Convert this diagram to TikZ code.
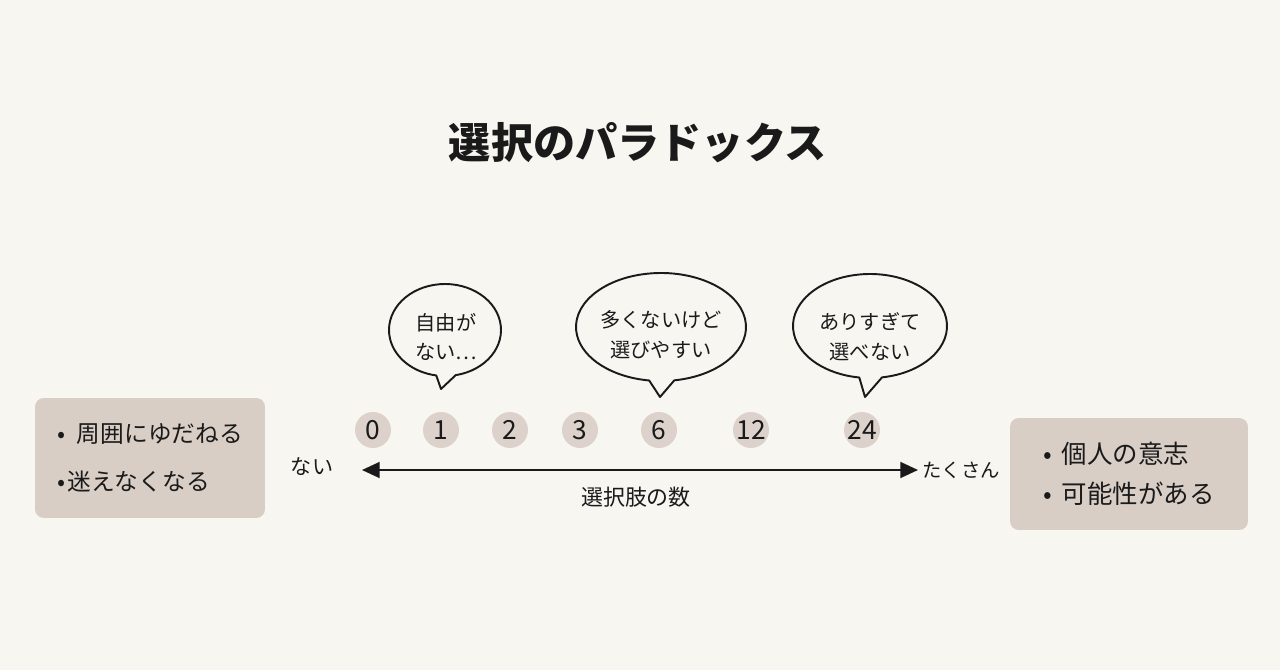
\documentclass[tikz,border=0pt]{standalone}
\usepackage{fontspec}
\setmainfont{Noto Sans CJK JP}
\usetikzlibrary{arrows.meta,calc}
\definecolor{bg}{HTML}{F7F6F1}
\definecolor{boxc}{HTML}{D9CEC6}
\definecolor{dotc}{HTML}{DCD2CB}
\definecolor{ink}{HTML}{1A1A1A}
\begin{document}
\begin{tikzpicture}[x=0.02cm,y=0.02cm,
  sidebox/.style={fill=boxc, rounded corners=5pt, align=left, inner sep=0pt,
    text=ink, font=\fontsize{13.5}{27}\selectfont},
  numdot/.style={circle, fill=dotc, minimum size=0.72cm, inner sep=0pt, text=ink,
    font=\fontsize{15}{15}\selectfont},
  bubtext/.style={align=center, text=ink, font=\fontsize{11.5}{17}\selectfont},
  bubline/.style={draw=ink, line width=1.1pt, line join=round},
  axlabel/.style={text=ink, font=\fontsize{12}{12}\selectfont}]
\useasboundingbox[fill=bg] (0,0) rectangle (1280,670);

% title
\node[text=ink, font=\fontsize{24}{24}\selectfont\bfseries] (title) at (638,527) {選択のパラドックス};

% side boxes
\node[sidebox, minimum width=4.6cm, minimum height=2.4cm] (left) at (150,212)
  {•\hspace{0.5em}周囲にゆだねる\\•\hspace{0.1em}迷えなくなる};
\node[sidebox, minimum width=4.76cm, minimum height=2.24cm, font=\fontsize{14.5}{23}\selectfont] (right) at (1129,196)
  {•\hspace{0.4em}個人の意志\\•\hspace{0.4em}可能性がある};

% axis
\coordinate (axL) at (362,200);
\coordinate (axR) at (918,200);
\draw[ink, line width=1.1pt, {Triangle[length=10pt,width=9pt]}-{Triangle[length=10pt,width=9pt]}] (axL) -- (axR);
\node[axlabel] (few) at (312,203) {ない};
\node[axlabel, font=\fontsize{11}{11}\selectfont] (many) at (961,200) {たくさん};
\node[axlabel, font=\fontsize{12.5}{12.5}\selectfont] (axname) at (636,173) {選択肢の数};

% numbers
\node[numdot] (n0) at (373,240) {0};
\node[numdot] (n1) at (441,240) {1};
\node[numdot] (n2) at (510,240) {2};
\node[numdot] (n3) at (580,240) {3};
\node[numdot] (n6) at (659,240) {6};
\node[numdot] (n12) at (751,240) {12};
\node[numdot] (n24) at (862,240) {24};

% bubble 1
\coordinate (c1) at (445,340);
\coordinate (t1) at (441,281);
\draw[bubline] ($(c1)+(281:56 and 46)$) arc[start angle=281, end angle=621, x radius=56, y radius=46] -- (t1) -- cycle;
\node[bubtext] (b1) at (446,333) {自由が\\ない…};

% bubble 2
\coordinate (c2) at (661,343);
\coordinate (t2) at (660,273);
\draw[bubline] ($(c2)+(279:85 and 54)$) arc[start angle=279, end angle=622, x radius=85, y radius=54] -- (t2) -- cycle;
\node[bubtext] (b2) at (661,335) {多くないけど\\選びやすい};

% bubble 3
\coordinate (c3) at (870,344);
\coordinate (t3) at (865,273);
\draw[bubline] ($(c3)+(279:77 and 52)$) arc[start angle=279, end angle=622, x radius=77, y radius=52] -- (t3) -- cycle;
\node[bubtext] (b3) at (870,333) {ありすぎて\\選べない};
\end{tikzpicture}
\end{document}
